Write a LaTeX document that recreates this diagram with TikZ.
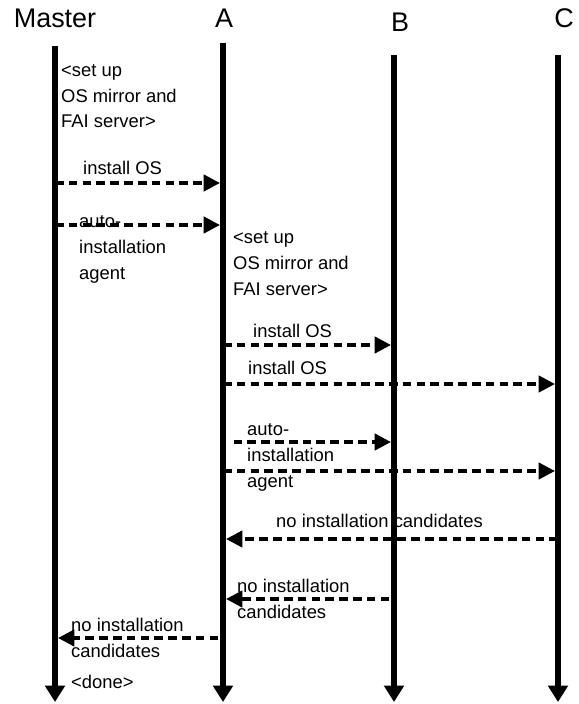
\documentclass[tikz,border=0pt]{standalone}
\usepackage{fontspec}
\setmainfont{Liberation Sans}
\usetikzlibrary{arrows.meta,positioning}
\tikzset{
	head/.style={font=\fontsize{23}{27}\selectfont, anchor=base, inner sep=0pt},
	lbl/.style={font=\fontsize{15.7}{22.1}\selectfont, anchor=base west,
		inner sep=0pt, align=left},
	life/.style={line width=5.8pt, -{Triangle[length=14pt,width=16.5pt]}},
	msg/.style={line width=2.9pt, dash pattern=on 7.4pt off 4.4pt,
		-{Triangle[length=14pt,width=14pt]}, shorten >=2.6pt},
}

\begin{document}
\begin{tikzpicture}[x=0.03cm, y=-0.03cm]
	\useasboundingbox (0,0) rectangle (578,704);
	% heads and lifelines
	\node[head] at (55,28) (mst) {Master};
	\node[head] at (224,28) (a) {A};
	\node[head] at (400,32) (b) {B};
	\node[head] at (564,28) (c) {C};
	\coordinate (mstT) at (55,46);  \coordinate (mstB) at (55,702);
	\coordinate (aT) at (223,43);   \coordinate (aB) at (223,702);
	\coordinate (bT) at (394,55);   \coordinate (bB) at (394,702);
	\coordinate (cT) at (558,55);   \coordinate (cB) at (558,702);
	\draw[life] (mstT) -- (mstB);
	\draw[life] (aT) -- (aB);
	\draw[life] (bT) -- (bB);
	\draw[life] (cT) -- (cB);
	% Master sets up A (multi-line labels sit on their last baseline)
	\node[lbl] at (61,128) (setupM) {<set up\\OS mirror and\\FAI server>};
	\node[lbl] at (83,175) (instA) {install OS};
	\draw[msg] (mstT |- 0,183) -- (aT |- 0,183);
	\node[lbl] at (79,279) (agentA) {auto-\\installation\\agent};
	\draw[msg] (mstT |- 0,225) -- (aT |- 0,225);
	% A sets up B and C
	\node[lbl] at (233,295) (setupA) {<set up\\OS mirror and\\FAI server>};
	\node[lbl] at (253,337) (instB) {install OS};
	\draw[msg] (aT |- 0,345) -- (bT |- 0,345);
	\node[lbl] at (248,374) (instC) {install OS};
	\draw[msg] (aT |- 0,384) -- (cT |- 0,384);
	\node[lbl] at (247,487) (agentBC) {auto-\\installation\\agent};
	\draw[msg, shorten <=9pt] (aT |- 0,442) -- (bT |- 0,442);
	\draw[msg] (aT |- 0,471) -- (cT |- 0,471);
	% replies
	\node[lbl] at (276,527) (noC) {no installation candidates};
	\draw[msg] (cT |- 0,539) -- (aT |- 0,539);
	\node[lbl] at (237,618) (noB) {no installation\\candidates};
	\draw[msg, shorten <=4pt] (bT |- 0,599) -- (aT |- 0,599);
	\node[lbl] at (71,657) (noA) {no installation\\candidates};
	\draw[msg, shorten <=4pt] (aT |- 0,638) -- (mstT |- 0,638);
	\node[lbl] at (71,688) (done) {<done>};
\end{tikzpicture}
\end{document}
